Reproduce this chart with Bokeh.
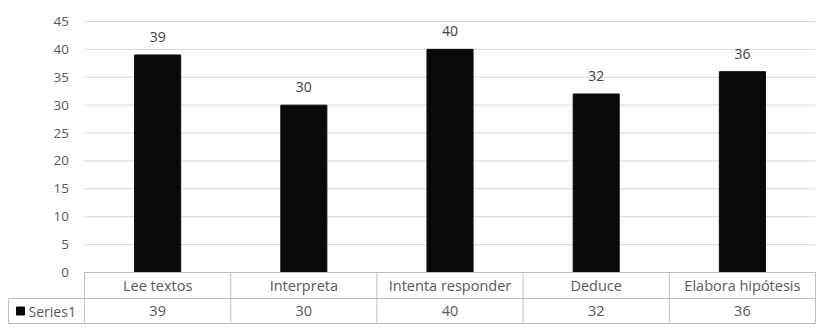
from bokeh.plotting import figure
from bokeh.models import Range1d, ColumnDataSource
from bokeh.core.properties import value
from bokeh.embed import file_html
from bokeh.resources import INLINE

categories = ["Lee textos", "Interpreta", "Intenta responder", "Deduce", "Elabora hipótesis"]
series1 = [39, 30, 40, 32, 36]
series_name = "Series1"
y_ticks = [0, 5, 10, 15, 20, 25, 30, 35, 40, 45]

FONT = "Open Sans"
TXT = "#595959"
GRID = "#d9d9d9"
BORDER = "#bfbfbf"

n = len(categories)
x_left = -0.52          # legend-key column of the data table
row1 = -4.66            # boundary between category row and value row
row2 = -9.14            # bottom of table

p = figure(width=816, height=324, output_backend="svg", toolbar_location=None,
           x_range=Range1d(-0.575, n + 0.007), y_range=Range1d(-9.32, 48.76),
           min_border=0, min_border_left=0, min_border_right=0,
           min_border_top=0, min_border_bottom=0)
p.axis.visible = False
p.grid.visible = False
p.outline_line_color = None
p.background_fill_color = "white"
p.border_fill_color = "white"

# gridlines (skip 0 -> table top border)
gy = [t for t in y_ticks if t != 0]
p.segment(x0=[0] * len(gy), x1=[n] * len(gy), y0=gy, y1=gy, line_color=GRID, line_width=1)

# y tick labels
p.text(x=[-0.107] * len(y_ticks), y=y_ticks, text=[str(t) for t in y_ticks],
       text_align="right", text_baseline="middle", text_color=TXT,
       text_font=value(FONT), text_font_size="13.5px")

# bars
xc = [i + 0.5 for i in range(n)]
src = ColumnDataSource(dict(x=xc, top=series1, lab=[str(v) for v in series1], cat=categories,
                            r1=[row1 / 2] * n, r2=[(row1 + row2) / 2] * n))
p.vbar(x="x", top="top", bottom=0, width=0.315, source=src,
       fill_color="#0a0a0a", line_color="#0a0a0a")
p.text(x="x", y="top", text="lab", source=src, y_offset=-18,
       text_align="center", text_baseline="middle", text_color="#404040",
       text_font=value(FONT), text_font_size="14px")

# data table borders
p.segment(x0=[0, x_left, x_left], x1=[n, n, n], y0=[0, row1, row2], y1=[0, row1, row2],
          line_color=BORDER, line_width=1)
vx = list(range(n + 1))
p.segment(x0=vx, x1=vx, y0=[0] * len(vx), y1=[row2] * len(vx), line_color=BORDER, line_width=1)
p.segment(x0=[x_left], x1=[x_left], y0=[row1], y1=[row2], line_color=BORDER, line_width=1)

# table text
p.text(x="x", y="r1", text="cat", source=src, text_align="center",
       text_baseline="middle", text_color=TXT, text_font=value(FONT), text_font_size="14.5px")
p.text(x="x", y="r2", text="lab", source=src, text_align="center",
       text_baseline="middle", text_color=TXT, text_font=value(FONT), text_font_size="14.5px")

# legend key and series name
p.scatter(x=[x_left + 0.082], y=[(row1 + row2) / 2], marker="square", size=8,
          fill_color="#0a0a0a", line_color="#0a0a0a")
p.text(x=[x_left + 0.137], y=[(row1 + row2) / 2], text=[series_name], text_align="left",
       text_baseline="middle", text_color=TXT, text_font=value(FONT), text_font_size="14px")

open("out.html", "w").write(file_html(p, INLINE))
